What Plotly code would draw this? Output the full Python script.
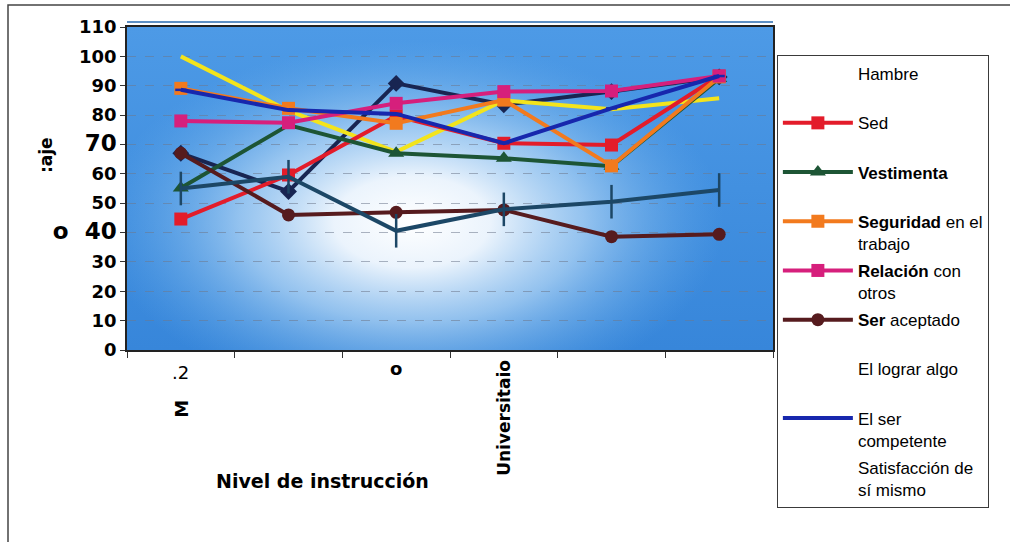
import base64
import plotly.graph_objects as go

# Instruction levels (x positions 1..6) and the labels drawn under them
levels = [1, 2, 3, 4, 5, 6]
level_labels = [".2", "", "o", "Universitaio", "", ""]

# Percentages per need, by instruction level
hambre = [100, 81.5, 67.5, 85, 82, 85.7]
sed = [44.6, 59.6, 79.7, 70.4, 69.8, 93.3]
vestimenta = [55.2, 76.6, 67, 65.3, 62.6, 92.5]
seguridad = [89.1, 82.3, 77.2, 85.1, 62.7, 93]
relacion = [78, 77.4, 84, 88, 88.2, 93.3]
ser_aceptado = [67, 46, 46.9, 47.7, 38.6, 39.4]
lograr_algo = [67, 54, 90.8, 83.5, 88, 93]
ser_competente = [88.6, 81.7, 80.4, 70.4, 82.3, 93.3]
satisfaccion = [55, 59, 40.6, 47.9, 50.5, 54.5]

y_ticks = [0, 10, 20, 30, 40, 50, 60, 70, 80, 90, 100, 110]
big = "<span style='font-size:23px'>%s</span>"
y_ticktext = ["0", "10", "20", "30", big % "o\u00a0\u00a040", "50", "60",
              big % "70", "80", "90", "100", "110"]

FONT = "Liberation Sans, Arial, sans-serif"
WIDE = "DejaVu Sans, Verdana, sans-serif"

# legend rank, name, values, color, symbol, size, symbol shown in legend
series = [
    (7, "El lograr algo<br> ", lograr_algo, "#182552", "diamond", 13, False),
    (1, "Hambre<br> ", hambre, "#f3e41c", None, 0, False),
    (2, "Sed<br> ", sed, "#e31c2a", "square", 13, True),
    (3, "<b>Vestimenta</b><br> ", vestimenta, "#1d5535", "triangle-up", 14, True),
    (4, "<b>Seguridad</b> en el<br>trabajo", seguridad, "#f27a1e", "square", 13, True),
    (5, "<b>Relación</b> con<br>otros", relacion, "#d61f7c", "square", 13, True),
    (6, "<b>Ser</b> aceptado<br> ", ser_aceptado, "#561b1e", "circle", 13, True),
    (8, "El ser<br>competente", ser_competente, "#1727ad", "line-ew", 8, True),
    (9, "Satisfacción de<br>sí mismo", satisfaccion, "#1c4766", "line-ns", 24, False),
]

fig = go.Figure()
for rank, name, vals, color, symbol, size, legend_symbol in series:
    group = "g%d" % rank
    marker = dict(color=color, size=size)
    mode = "lines"
    if symbol:
        mode = "lines+markers"
        marker["symbol"] = symbol
        if symbol.startswith("line"):
            marker["line"] = dict(color=color, width=2.5)
    fig.add_trace(go.Scatter(
        x=levels, y=vals, mode=mode, name=name,
        line=dict(color=color, width=4), marker=marker,
        showlegend=legend_symbol, legendgroup=group, legendrank=rank,
        hoverinfo="skip",
    ))
    if not legend_symbol:
        # legend entry with text only
        fig.add_trace(go.Scatter(
            x=[None], y=[None], mode="lines", name=name,
            line=dict(color="rgba(0,0,0,0)", width=1), showlegend=True,
            legendgroup=group, legendrank=rank,
        ))

# Plot-area background: blue with a soft white glow
svg = """<svg xmlns='http://www.w3.org/2000/svg' width='646' height='323' viewBox='0 0 646 323' preserveAspectRatio='none'>
<defs>
<linearGradient id='base' x1='0' y1='0' x2='0' y2='1'>
<stop offset='0' stop-color='#4d9ae6'/><stop offset='1' stop-color='#3786da'/>
</linearGradient>
<radialGradient id='glow' gradientUnits='userSpaceOnUse' cx='285' cy='195' r='260'
 gradientTransform='translate(285,195) scale(1.2,0.7) translate(-285,-195)'>
<stop offset='0' stop-color='#ffffff' stop-opacity='1'/>
<stop offset='0.25' stop-color='#f4f9fe' stop-opacity='0.95'/>
<stop offset='0.55' stop-color='#bcdcf7' stop-opacity='0.68'/>
<stop offset='0.8' stop-color='#8ac0ef' stop-opacity='0.32'/>
<stop offset='1' stop-color='#6aaeea' stop-opacity='0'/>
</radialGradient>
</defs>
<rect width='646' height='323' fill='url(#base)'/>
<rect width='646' height='323' fill='url(#glow)'/>
</svg>"""
bg = "data:image/svg+xml;base64," + base64.b64encode(svg.encode()).decode()

fig.update_layout(
    width=1010, height=542,
    margin=dict(l=127, r=237, t=27, b=192),
    paper_bgcolor="white", plot_bgcolor="#4a96e2",
    font=dict(family=FONT, color="black"),
    images=[dict(source=bg, xref="paper", yref="paper", x=0, y=1,
                 sizex=1, sizey=1, sizing="stretch", layer="below")],
    legend=dict(
        x=1.006, y=0.913, xanchor="left", yanchor="top",
        bgcolor="white", bordercolor="#3a3a3a", borderwidth=1,
        font=dict(family=FONT, size=17, color="black"),
        itemwidth=70, valign="top", tracegroupgap=2, maxheight=700,
        traceorder="grouped",
    ),
    showlegend=True,
)

fig.update_xaxes(
    range=[0.5, 6.5], tickvals=[0.5, 1.5, 2.5, 3.5, 4.5, 5.5, 6.5],
    showticklabels=False, ticks="outside", ticklen=6, tickcolor="#333",
    showgrid=False, zeroline=False, showline=True, linecolor="#222",
    linewidth=1.5, mirror=True,
)
fig.update_yaxes(
    range=[0, 110], tickvals=y_ticks, ticktext=y_ticktext,
    tickfont=dict(family=WIDE, size=18, color="black", weight="bold"),
    ticks="outside", ticklen=5, tickcolor="#333",
    showgrid=True, gridcolor="rgba(110,120,140,0.55)", griddash="dash",
    gridwidth=1, zeroline=False, showline=True, linecolor="#222",
    linewidth=1.5, mirror=True,
)

# Category labels under the axis
for x, lab in zip(levels, level_labels):
    if not lab:
        continue
    if lab == "Universitaio":
        fig.add_annotation(x=x, y=0, xref="x", yref="paper", yshift=-8,
                           text="<b>%s</b>" % lab, textangle=-90, showarrow=False,
                           xanchor="center", yanchor="top",
                           font=dict(family=WIDE, size=17))
    elif lab == "o":
        fig.add_annotation(x=x, y=0, xref="x", yref="paper", yshift=-6,
                           text="<b>%s</b>" % lab, showarrow=False,
                           xanchor="center", yanchor="top",
                           font=dict(family=WIDE, size=18))
    else:
        fig.add_annotation(x=x, y=0, xref="x", yref="paper", yshift=-10,
                           text=lab, showarrow=False, xanchor="center",
                           yanchor="top", font=dict(family=WIDE, size=18))
        fig.add_annotation(x=x, y=0, xref="x", yref="paper", yshift=-48,
                           text="<b>M</b>", textangle=-90, showarrow=False,
                           xanchor="center", yanchor="top",
                           font=dict(family=WIDE, size=18))

# Axis titles
fig.add_annotation(x=(322 - 127) / 646, y=(350 - 481) / 323, xref="paper", yref="paper",
                   text="<b>Nivel de instrucción</b>", showarrow=False,
                   xanchor="center", yanchor="middle",
                   font=dict(family=WIDE, size=19))
fig.add_annotation(x=(46 - 127) / 646, y=(350 - 155) / 323, xref="paper", yref="paper",
                   text="<b>:aje</b>", textangle=-90, showarrow=False,
                   xanchor="center", yanchor="middle",
                   font=dict(family=WIDE, size=17))

# Outer frame and the thin line above the plot area
fig.add_shape(type="rect", xref="paper", yref="paper",
              x0=(8 - 127) / 646, x1=(1060 - 127) / 646,
              y0=(350 - 580) / 323, y1=(350 - 5) / 323,
              line=dict(color="#444", width=1.5), layer="below")
fig.add_shape(type="line", xref="paper", yref="paper",
              x0=0, x1=1, y0=(350 - 22) / 323, y1=(350 - 22) / 323,
              line=dict(color="#5d8fc4", width=2))

fig.write_html("out.html")
